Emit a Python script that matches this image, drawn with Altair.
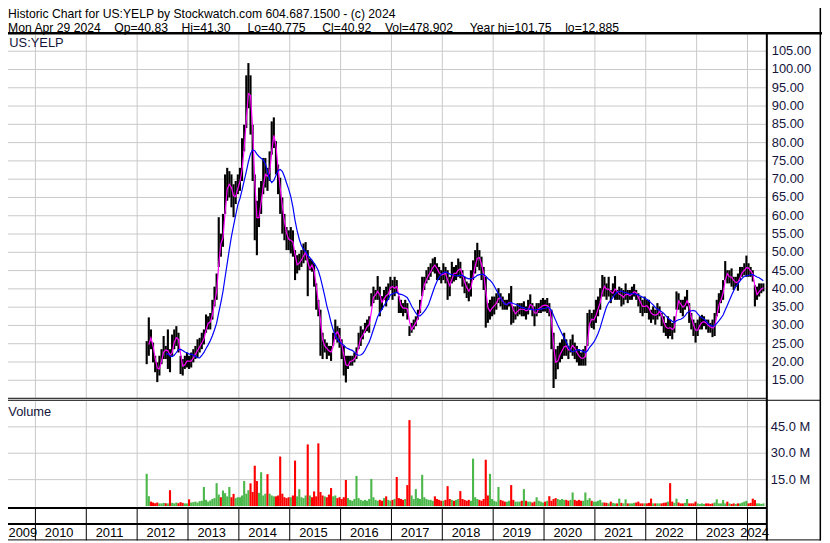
import altair as alt
import pandas as pd

FONT = "Liberation Sans"

# ---------------- data ----------------
# Semi-monthly periods (24 per year). 2012 starts at period 4 (early March).
FIRST_PERIOD_2012 = 4

hi_2012 = [25.7, 32.2, 28.9, 25.3, 21.7, 19.9, 21.7, 23.5, 27.1, 24.4, 28.9, 23.5, 27.5, 28.9, 29.8, 28.0, 21.7, 20.8, 21.7, 22.6]
lo_2012 = [19.4, 21.7, 23.5, 19.9, 17.2, 14.5, 16.3, 19.4, 20.8, 20.8, 18.1, 17.2, 21.7, 23.5, 24.4, 22.6, 16.7, 16.3, 18.1, 18.5]
vol_2012 = [18.3, 5.6, 2.5, 2.0, 1.6, 2.0, 1.5, 1.5, 1.8, 1.6, 1.5, 9.0, 1.8, 1.5, 2.0, 1.6, 2.2, 1.8, 1.5, 1.5]

hi_2013 = [21.7, 22.6, 23.5, 24.4, 26.2, 26.6, 28.0, 28.9, 33.0, 32.5, 33.4, 37.0, 40.6, 44.2, 59.6, 55.1, 60.5, 71.3, 73.1, 72.2, 71.3, 68.6, 69.5, 71.3]
lo_2013 = [18.1, 18.5, 19.9, 20.8, 21.2, 22.6, 23.5, 24.8, 28.0, 28.9, 28.9, 31.6, 35.2, 37.0, 46.0, 48.8, 51.5, 60.5, 64.1, 65.0, 62.3, 59.6, 63.2, 65.9]
vol_2013 = [3.8, 2.0, 2.2, 2.5, 2.0, 2.8, 3.0, 10.8, 3.5, 2.5, 3.2, 4.0, 4.5, 13.0, 6.5, 5.0, 8.8, 7.3, 5.5, 10.8, 5.0, 6.9, 4.5, 5.0]

hi_2014 = [73.1, 81.2, 84.9, 98.4, 101.75, 98.4, 84.9, 71.3, 64.1, 67.7, 69.5, 75.8, 75.8, 73.1, 77.6, 85.8, 86.9, 80.4, 74.0, 70.4, 65.0, 60.5, 56.9, 56.0]
lo_2014 = [66.8, 69.5, 77.6, 84.0, 89.4, 82.2, 69.5, 53.3, 49.2, 56.9, 60.5, 65.9, 67.7, 66.8, 69.5, 76.7, 78.5, 71.3, 65.9, 60.5, 55.1, 53.3, 50.6, 50.6]
vol_2014 = [5.0, 6.0, 14.2, 7.0, 9.0, 12.9, 8.0, 22.9, 14.2, 7.5, 19.2, 6.0, 7.0, 18.1, 7.0, 6.0, 5.5, 5.5, 6.0, 28.1, 7.0, 5.0, 4.5, 5.0]

hi_2015 = [56.9, 56.0, 50.6, 49.2, 49.6, 50.6, 52.4, 52.8, 50.6, 48.3, 47.8, 47.0, 41.5, 37.0, 34.3, 28.0, 26.2, 25.3, 24.4, 24.4, 28.0, 31.6, 29.8, 29.3]
lo_2015 = [49.7, 48.8, 42.4, 44.2, 45.1, 46.0, 47.0, 47.8, 38.0, 45.1, 44.7, 40.6, 34.3, 32.5, 21.7, 20.8, 22.6, 20.8, 21.7, 20.3, 24.4, 26.2, 25.3, 23.9]
vol_2015 = [5.0, 6.0, 25.8, 5.5, 9.6, 5.0, 4.5, 6.0, 35.0, 6.0, 5.0, 8.3, 5.5, 35.6, 8.0, 6.0, 5.5, 5.0, 6.5, 10.2, 5.5, 6.0, 4.5, 5.0]

hi_2016 = [26.2, 24.4, 21.7, 21.7, 21.7, 21.7, 22.6, 24.0, 28.0, 29.8, 28.9, 30.7, 31.6, 32.5, 38.8, 40.6, 39.7, 43.5, 40.6, 38.0, 39.7, 40.6, 41.5, 43.3]
lo_2016 = [20.8, 16.3, 14.4, 18.1, 19.0, 19.0, 19.9, 20.8, 23.5, 24.4, 26.2, 28.0, 28.4, 28.0, 35.2, 36.1, 37.0, 37.0, 32.5, 34.3, 37.0, 35.2, 37.0, 39.7]
vol_2016 = [4.0, 5.0, 14.8, 4.5, 3.5, 3.0, 4.0, 17.1, 4.5, 3.5, 3.0, 3.5, 3.0, 4.0, 15.4, 5.0, 3.5, 3.0, 3.5, 3.0, 4.5, 5.5, 3.5, 3.0]

hi_2017 = [42.4, 43.3, 42.4, 38.0, 37.0, 36.1, 37.0, 36.1, 29.8, 30.7, 31.6, 32.5, 34.3, 37.0, 43.3, 43.3, 45.1, 46.0, 47.0, 48.3, 48.7, 47.0, 46.0, 45.1]
lo_2017 = [37.0, 38.0, 38.8, 33.4, 33.4, 32.5, 33.4, 31.6, 27.1, 28.0, 28.9, 29.8, 31.6, 33.4, 38.0, 39.7, 41.5, 42.4, 43.3, 44.7, 44.2, 42.4, 42.4, 41.5]
vol_2017 = [3.5, 4.0, 16.5, 4.5, 4.0, 3.5, 4.0, 11.9, 48.8, 6.0, 4.0, 9.6, 4.5, 4.0, 17.7, 5.0, 4.0, 3.5, 3.5, 3.0, 5.5, 4.0, 3.5, 3.0]

hi_2018 = [47.0, 46.0, 45.1, 43.3, 47.4, 46.0, 46.5, 48.3, 47.4, 45.1, 43.3, 42.0, 41.5, 45.1, 47.8, 50.6, 52.6, 50.6, 48.8, 46.0, 43.3, 36.1, 37.0, 37.9]
lo_2018 = [42.4, 41.5, 37.0, 38.0, 41.5, 42.0, 42.4, 43.3, 42.9, 40.6, 38.8, 37.5, 36.6, 37.9, 42.4, 44.2, 46.0, 45.1, 42.4, 39.7, 29.4, 30.7, 31.6, 32.5]
vol_2018 = [3.0, 3.5, 11.3, 4.0, 3.5, 3.0, 3.5, 4.0, 8.5, 4.0, 3.5, 3.0, 3.5, 3.0, 26.9, 5.0, 4.0, 3.5, 3.0, 4.0, 26.3, 6.0, 18.3, 4.0]

hi_2019 = [37.9, 38.8, 40.2, 38.8, 37.9, 37.0, 37.0, 38.8, 40.8, 35.2, 35.2, 36.1, 36.1, 36.1, 36.6, 35.2, 37.0, 38.5, 36.1, 35.2, 36.1, 36.1, 37.0, 37.5]
lo_2019 = [33.0, 34.3, 36.1, 35.2, 34.3, 34.3, 34.3, 35.2, 30.2, 30.7, 31.6, 32.5, 33.0, 32.5, 32.5, 31.6, 33.0, 34.3, 32.5, 29.8, 32.5, 33.4, 33.4, 33.8]
vol_2019 = [3.0, 2.5, 10.8, 3.5, 3.0, 2.5, 2.5, 3.0, 11.9, 3.5, 2.5, 2.5, 2.5, 3.0, 9.6, 3.0, 2.5, 2.5, 2.0, 2.5, 5.0, 3.0, 2.5, 2.0]

hi_2020 = [37.0, 37.5, 36.1, 34.3, 28.0, 23.5, 24.4, 25.3, 26.2, 28.0, 26.2, 24.4, 26.2, 27.5, 25.3, 24.4, 23.5, 22.6, 23.5, 24.4, 33.4, 34.3, 33.4, 34.3]
lo_2020 = [33.8, 33.4, 32.5, 23.5, 12.885, 15.3, 18.0, 19.9, 20.8, 21.7, 21.7, 20.8, 22.6, 21.7, 20.8, 19.9, 19.0, 19.0, 19.0, 19.0, 24.4, 29.8, 29.3, 28.9]
vol_2020 = [2.5, 3.0, 5.6, 3.0, 4.0, 4.5, 4.0, 3.5, 4.0, 3.5, 3.5, 3.0, 3.5, 7.7, 3.5, 3.0, 3.5, 3.0, 3.0, 7.7, 3.5, 4.5, 3.0, 2.5]

hi_2021 = [37.0, 37.9, 40.2, 43.8, 43.3, 41.5, 43.3, 39.7, 41.5, 43.5, 39.7, 40.6, 40.2, 39.7, 41.5, 39.7, 39.7, 40.6, 41.3, 39.7, 38.8, 37.9, 37.0, 37.9]
lo_2021 = [30.7, 32.5, 34.3, 37.9, 37.9, 37.0, 37.9, 36.1, 37.9, 37.0, 37.0, 37.0, 35.2, 35.7, 37.0, 36.1, 37.0, 37.0, 37.9, 37.0, 35.2, 33.4, 32.5, 33.4]
vol_2021 = [2.5, 3.0, 3.5, 2.0, 2.0, 1.8, 1.5, 2.5, 1.8, 1.5, 1.5, 4.2, 1.8, 1.5, 3.8, 1.5, 1.5, 1.5, 1.8, 2.0, 2.5, 1.5, 1.5, 1.5]

hi_2022 = [37.0, 37.0, 34.3, 35.2, 34.3, 36.1, 35.2, 33.4, 32.5, 30.7, 32.5, 31.6, 30.7, 32.5, 39.3, 38.8, 37.0, 37.0, 37.9, 39.7, 36.1, 33.4, 31.6, 30.7]
lo_2022 = [33.4, 31.6, 30.7, 31.6, 30.2, 31.6, 32.5, 29.8, 28.0, 27.1, 26.4, 27.1, 26.2, 28.0, 34.3, 34.3, 33.4, 32.5, 34.3, 35.2, 30.7, 28.9, 27.1, 25.3]
vol_2022 = [1.5, 1.8, 4.2, 1.5, 1.5, 1.5, 1.5, 1.5, 1.8, 2.0, 2.5, 13.0, 2.5, 1.8, 4.2, 2.0, 1.5, 1.5, 1.8, 4.0, 1.5, 1.5, 1.5, 2.5]

hi_2023 = [31.6, 32.5, 32.9, 32.5, 31.6, 31.6, 30.7, 31.6, 33.4, 37.0, 38.8, 39.7, 42.4, 47.6, 45.1, 45.1, 45.6, 43.3, 43.3, 44.2, 46.0, 46.0, 47.0, 49.1]
lo_2023 = [27.1, 28.9, 28.9, 29.8, 28.9, 28.0, 28.0, 26.8, 27.1, 32.5, 33.4, 36.1, 37.0, 42.4, 41.5, 41.5, 40.6, 39.7, 40.6, 39.5, 42.4, 43.3, 43.8, 43.3]
vol_2023 = [1.5, 1.2, 1.5, 1.2, 1.5, 1.5, 1.2, 1.5, 2.0, 3.8, 1.5, 1.5, 3.4, 1.5, 2.5, 1.5, 1.2, 1.5, 1.2, 1.5, 1.5, 2.0, 2.5, 3.0]

hi_2024 = [47.0, 46.0, 45.1, 41.0, 40.6, 41.5, 41.5, 41.5]
lo_2024 = [43.3, 43.3, 42.0, 35.2, 37.0, 37.9, 38.8, 39.3]
vol_2024 = [1.5, 1.8, 4.2, 3.4, 1.5, 1.5, 1.2, 1.5]

price_ticks = [15, 20, 25, 30, 35, 40, 45, 50, 55, 60, 65, 70, 75, 80, 85, 90, 95, 100, 105]
vol_ticks = [15, 30, 45]
year_list = list(range(2009, 2025))

header1 = "Historic Chart for US:YELP by Stockwatch.com 604.687.1500 - (c) 2024"
header2_fields = ["Mon Apr 29 2024", "Op=40.83", "Hi=41.30", "Lo=40.775", "Cl=40.92",
                  "Vol=478,902", "Year hi=101.75", "lo=12.885"]
header2_gaps = [4, 4, 5, 5, 4, 5, 4]

# ---------------- table ----------------
HI = {2012: hi_2012, 2013: hi_2013, 2014: hi_2014, 2015: hi_2015, 2016: hi_2016, 2017: hi_2017,
      2018: hi_2018, 2019: hi_2019, 2020: hi_2020, 2021: hi_2021, 2022: hi_2022, 2023: hi_2023, 2024: hi_2024}
LO = {2012: lo_2012, 2013: lo_2013, 2014: lo_2014, 2015: lo_2015, 2016: lo_2016, 2017: lo_2017,
      2018: lo_2018, 2019: lo_2019, 2020: lo_2020, 2021: lo_2021, 2022: lo_2022, 2023: lo_2023, 2024: lo_2024}
VOL = {2012: vol_2012, 2013: vol_2013, 2014: vol_2014, 2015: vol_2015, 2016: vol_2016, 2017: vol_2017,
       2018: vol_2018, 2019: vol_2019, 2020: vol_2020, 2021: vol_2021, 2022: vol_2022, 2023: vol_2023, 2024: vol_2024}

rows = []
prev_mid = None
for yr in sorted(HI):
    k0 = FIRST_PERIOD_2012 if yr == 2012 else 0
    for i, (h, l, v) in enumerate(zip(HI[yr], LO[yr], VOL[yr])):
        k = k0 + i
        t0 = yr + k / 24.0
        t1 = yr + (k + 1) / 24.0
        mid = (h + l) / 2.0
        d = "up" if (prev_mid is None or mid >= prev_mid) else "down"
        prev_mid = mid
        rows.append(dict(t0=t0, t1=t1, tm=(t0 + t1) / 2.0, hi=h, lo=l, mid=mid, vol=v, v0=0.0, dir=d))
df = pd.DataFrame(rows)

nb = "\u00a0"
header2 = header2_fields[0]
for g, f in zip(header2_gaps, header2_fields[1:]):
    header2 += nb * g + f
header_text = header1 + "\n" + header2

# ---------------- scales (pixel ranges in page coordinates) ----------------
PX_YEAR = 51.36
X_2009 = -15.66
xs = alt.Scale(domain=[2009, 2025], range=[X_2009, X_2009 + 16 * PX_YEAR], nice=False, zero=False)
ps = alt.Scale(domain=[15, 105], range=[381.3, 49.0], nice=False, zero=False)
vs = alt.Scale(domain=[0, 45], range=[508.3, 428.3], nice=False, zero=False)


def X(f):
    return alt.X(f, type="quantitative", scale=xs, axis=None)


def P(f):
    return alt.Y(f, type="quantitative", scale=ps, axis=None)


def V(f):
    return alt.Y(f, type="quantitative", scale=vs, axis=None)


GRID = "#c8c8c8"
BLACK = "#000000"
NAVY = "#14143c"
GREEN = "#4cb84c"
RED = "#ff0000"
one = pd.DataFrame({"a": [0]})

layers = []

# gridlines
layers.append(alt.Chart(pd.DataFrame({"p": price_ticks})).mark_rule(color=GRID, strokeWidth=1)
              .encode(x=alt.value(0), x2=alt.value(773.5), y=P("p")))
layers.append(alt.Chart(pd.DataFrame({"v": vol_ticks})).mark_rule(color=GRID, strokeWidth=1)
              .encode(x=alt.value(0), x2=alt.value(773.5), y=V("v")))
layers.append(alt.Chart(pd.DataFrame({"t": year_list[1:]})).mark_rule(color=GRID, strokeWidth=1)
              .encode(x=X("t"), y=alt.value(32), y2=alt.value(399)))
layers.append(alt.Chart(pd.DataFrame({"t": year_list[1:]})).mark_rule(color=GRID, strokeWidth=1)
              .encode(x=X("t"), y=alt.value(402.5), y2=alt.value(509)))

# price bars
layers.append(alt.Chart(df).mark_rect(color=BLACK)
              .encode(x=X("t0"), x2="t1", y=P("hi"), y2="lo"))

# moving averages
layers.append(alt.Chart(df)
              .transform_window(ma="mean(mid)", rn="row_number()", frame=[-1, 0], sort=[alt.SortField("tm")])
              .transform_filter("datum.rn >= 2")
              .mark_line(color="#ff00ff", strokeWidth=1.2)
              .encode(x=X("tm"), y=P("ma")))
layers.append(alt.Chart(df)
              .transform_window(ma="mean(mid)", rn="row_number()", frame=[-9, 0], sort=[alt.SortField("tm")])
              .transform_filter("datum.rn >= 10")
              .mark_line(color="#0000ff", strokeWidth=1.2)
              .encode(x=X("tm"), y=P("ma")))

# volume bars
layers.append(alt.Chart(df).mark_rect()
              .encode(x=X("t0"), x2="t1", y=V("vol"), y2="v0",
                      color=alt.Color("dir:N", scale=alt.Scale(domain=["up", "down"], range=[GREEN, RED]),
                                      legend=None)))

# frame lines
def hline(y, x1, x2, w):
    return alt.Chart(one).mark_rule(color=BLACK, strokeWidth=w).encode(
        x=alt.value(x1), x2=alt.value(x2), y=alt.value(y))


def vline(x, y1, y2, w):
    return alt.Chart(one).mark_rule(color=BLACK, strokeWidth=w).encode(
        x=alt.value(x), y=alt.value(y1), y2=alt.value(y2))


layers += [
    hline(30.8, 0, 830, 2.5),
    hline(399.5, 0, 774, 1),
    hline(401.5, 0, 829, 1),
    hline(510.2, 0, 774, 2),
    hline(526.5, 0, 774, 2),
    hline(542.5, 0, 829, 1),
    vline(774.3, 31, 543, 2),
    vline(828.3, 0, 543, 1.5),
]

# year separators in the time axis band
layers.append(alt.Chart(pd.DataFrame({"t": year_list[1:]})).mark_rule(color=BLACK, strokeWidth=1)
              .encode(x=X("t"), y=alt.value(511), y2=alt.value(543)))

# texts
layers.append(alt.Chart(pd.DataFrame({"s": [header_text]})).mark_text(
    align="left", baseline="alphabetic", font=FONT, fontSize=12.3, color=BLACK,
    lineBreak="\n", lineHeight=13.8)
    .encode(x=alt.value(8), y=alt.value(15.6), text="s:N"))
layers.append(alt.Chart(pd.DataFrame({"s": ["US:YELP"]})).mark_text(
    align="left", baseline="alphabetic", font=FONT, fontSize=13, color=NAVY)
    .encode(x=alt.value(9.3), y=alt.value(45), text="s:N"))
layers.append(alt.Chart(pd.DataFrame({"s": ["Volume"]})).mark_text(
    align="left", baseline="alphabetic", font=FONT, fontSize=13, color=NAVY)
    .encode(x=alt.value(8.3), y=alt.value(417.7), text="s:N"))

plab = pd.DataFrame({"p": price_ticks, "lab": [f"{p:.2f}" for p in price_ticks]})
layers.append(alt.Chart(plab).mark_text(align="left", baseline="middle", font=FONT, fontSize=13, color=NAVY)
              .encode(x=alt.value(779.3), y=P("p"), text="lab:N"))
vlab = pd.DataFrame({"v": vol_ticks, "lab": [f"{v:.1f} M" for v in vol_ticks]})
layers.append(alt.Chart(vlab).mark_text(align="left", baseline="middle", font=FONT, fontSize=13, color=NAVY)
              .encode(x=alt.value(778.3), y=V("v"), text="lab:N"))

ylab = pd.DataFrame({"t": year_list[1:-1], "lab": [str(y) for y in year_list[1:-1]]})
layers.append(alt.Chart(ylab).mark_text(align="left", baseline="alphabetic", font=FONT, fontSize=13,
                                        color=BLACK, dx=9.5)
              .encode(x=X("t"), y=alt.value(539.5), text="lab:N"))
layers.append(alt.Chart(pd.DataFrame({"lab": [str(year_list[0])]})).mark_text(
    align="left", baseline="alphabetic", font=FONT, fontSize=13, color=BLACK)
    .encode(x=alt.value(8.5), y=alt.value(539.5), text="lab:N"))
layers.append(alt.Chart(pd.DataFrame({"lab": [str(year_list[-1])]})).mark_text(
    align="left", baseline="alphabetic", font=FONT, fontSize=13, color=BLACK)
    .encode(x=alt.value(747.5), y=alt.value(539.5), text="lab:N"))

chart = (alt.layer(*layers)
         .resolve_scale(x="independent", y="independent", color="independent")
         .properties(width=830, height=543,
                     padding={"left": -8, "top": -8, "right": 0, "bottom": 0},
                     autosize=alt.AutoSizeParams(type="none"),
                     background="white")
         .configure_view(stroke=None))

chart.save("out.html", embed_options={"renderer": "svg", "actions": False})
